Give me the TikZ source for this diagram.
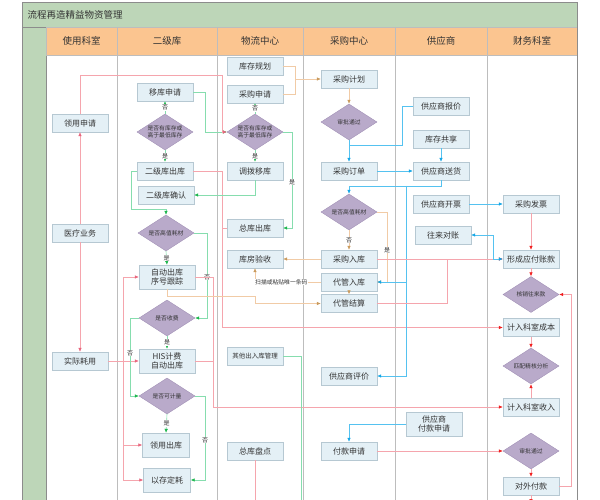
\documentclass[tikz,border=0pt]{standalone}
\usepackage{fontspec}
\setmainfont{Noto Sans CJK SC}
\usetikzlibrary{shapes.geometric,arrows.meta}
\definecolor{frameln}{HTML}{8C8C8C}
\definecolor{laneln}{HTML}{BDBDBD}
\definecolor{ttlgreen}{HTML}{BDD6B8}
\definecolor{hdorange}{HTML}{FBC590}
\definecolor{boxfill}{HTML}{E4F0F6}
\definecolor{boxln}{HTML}{B6C8D2}
\definecolor{diafill}{HTML}{B9AACA}
\definecolor{dialn}{HTML}{A291B6}
\definecolor{txt}{HTML}{333333}
\definecolor{pinkln}{HTML}{F5A5AD}
\definecolor{pinkhd}{HTML}{E8657E}
\definecolor{redhd}{HTML}{F01E1E}
\definecolor{greenln}{HTML}{86DDAE}
\definecolor{greenhd}{HTML}{1BB64C}
\definecolor{blueln}{HTML}{55C2F0}
\definecolor{bluehd}{HTML}{14A6E6}
\definecolor{tanln}{HTML}{F1CBA6}
\definecolor{tanhd}{HTML}{C99A5C}
\begin{document}
\begin{tikzpicture}[x=1pt, y=-1pt,
  box/.style={draw=boxln, fill=boxfill, minimum width=56pt, minimum height=18pt,
    inner sep=1pt, align=center, text=txt, font=\fontsize{8}{9.5}\selectfont},
  dia/.style={diamond, draw=dialn, fill=diafill, minimum width=56pt,
    minimum height=36pt, inner sep=0pt},
  dtxt/.style={align=center, text=txt, inner sep=0pt, font=\fontsize{5.8}{7}\selectfont},
  lbl/.style={fill=white, inner sep=0.6pt, text=txt, font=\fontsize{6}{7}\selectfont},
  hd/.style={text=txt, font=\fontsize{9.5}{11}\selectfont},
  pk/.style={draw=pinkln, line width=0.6pt, -{Latex[length=4pt,width=3.6pt,color=pinkhd]}},
  rd/.style={draw=pinkln, line width=0.6pt, -{Latex[length=4pt,width=3.6pt,color=redhd]}},
  gr/.style={draw=greenln, line width=0.6pt, -{Latex[length=4pt,width=3.6pt,color=greenhd]}},
  bl/.style={draw=blueln, line width=0.6pt, -{Latex[length=4pt,width=3.6pt,color=bluehd]}},
  tn/.style={draw=tanln, line width=0.6pt, -{Latex[length=4pt,width=3.6pt,color=tanhd]}}]
  \useasboundingbox (0,0) rectangle (600,500);
  \clip (0,0) rectangle (600,500);
  % 标题栏与泳道
  \filldraw[fill=ttlgreen, draw=frameln] (22,2) rectangle (577,27);
  \filldraw[fill=ttlgreen, draw=frameln] (22,27) rectangle (46,506);
  \filldraw[fill=hdorange, draw=laneln] (46,27) rectangle (577,55);
  \node[hd, anchor=west] (ttl) at (24,14.5) {流程再造精益物资管理};
  \foreach \x in {117,217,303,395,487}
    \draw[laneln] (\x,27) -- (\x,506);
  \draw[frameln] (22,2) rectangle (577,506);
  \node[hd] (h1) at (81.5,41) {使用科室};
  \node[hd] (h2) at (167,41) {二级库};
  \node[hd] (h3) at (260,41) {物流中心};
  \node[hd] (h4) at (349,41) {采购中心};
  \node[hd] (h5) at (441,41) {供应商};
  \node[hd] (h6) at (532,41) {财务科室};

  % 使用科室
  \node[box] (ly_sq) at (80,123) {领用申请};
  \node[box] (yl_yw) at (80,233) {医疗业务};
  \node[box] (sj_hy) at (80,361) {实际耗用};
  % 二级库
  \node[box] (yk_sq) at (165,92) {移库申请};
  \node[dia, label={[dtxt]center:是否有库存或\\高于最低库存}] (ej_pd) at (165,132) {};
  \node[box] (ej_ck) at (165,171) {二级库出库};
  \node[box] (ej_qr) at (166,195) {二级库确认};
  \node[dia, label={[dtxt]center:是否高值耗材}] (ej_gz) at (166,233) {};
  \node[box, minimum height=24pt] (zd_ck) at (167,277) {自动出库\\序号跟踪};
  \node[dia, label={[dtxt]center:是否收费}] (sf_pd) at (167,318) {};
  \node[box, minimum height=24pt] (his) at (167,361) {HIS计费\\自动出库};
  \node[dia, label={[dtxt]center:是否可计量}] (jl_pd) at (167,396) {};
  \node[box, minimum width=47pt, minimum height=24pt] (ly_ck) at (166,445) {领用出库};
  \node[box, minimum width=47pt, minimum height=24pt] (yc_dh) at (167,480) {以存定耗};
  % 物流中心
  \node[box] (kc_gh) at (255,66) {库存规划};
  \node[box] (cg_sq) at (255,94) {采购申请};
  \node[dia, label={[dtxt]center:是否有库存或\\高于最低库存}] (wl_pd) at (255,132) {};
  \node[box] (db_yk) at (255,171) {调拨移库};
  \node[box] (zk_ck) at (255,228) {总库出库};
  \node[box] (kf_ys) at (255,259) {库房验收};
  \node[box, font=\fontsize{6.5}{8}\selectfont] (qt_gl) at (255,356) {其他出入库管理};
  \node[box] (zk_pd) at (255,451) {总库盘点};
  % 采购中心
  \node[box] (cg_jh) at (349,79) {采购计划};
  \node[dia, label={[dtxt]center:审批通过}] (sp_pd) at (349,122) {};
  \node[box] (cg_dd) at (349,171) {采购订单};
  \node[dia, label={[dtxt]center:是否高值耗材}] (cg_gz) at (349,212) {};
  \node[box] (cg_rk) at (349,259) {采购入库};
  \node[box] (dg_rk) at (349,282) {代管入库};
  \node[box] (dg_js) at (349,303.5) {代管结算};
  \node[box] (gys_pj) at (349,376) {供应商评价};
  \node[box] (fk_sq) at (349,451) {付款申请};
  % 供应商
  \node[box] (gys_bj) at (441,106) {供应商报价};
  \node[box] (kc_gx) at (441,139) {库存共享};
  \node[box] (gys_sh) at (441,171) {供应商送货};
  \node[box] (gys_kp) at (441,204) {供应商开票};
  \node[box] (wl_dz) at (443,235) {往来对账};
  \node[box, minimum height=24pt] (gys_fk) at (434,424) {供应商\\付款申请};
  % 财务科室
  \node[box] (cg_fp) at (531,204) {采购发票};
  \node[box] (yf_zk) at (531,259) {形成应付账款};
  \node[dia, label={[dtxt]center:核销往来款}] (hx_pd) at (531,294.5) {};
  \node[box] (cb) at (531,327.5) {计入科室成本};
  \node[dia, label={[dtxt]center:匹配精核分析}] (pp_pd) at (531,366) {};
  \node[box] (sr) at (531,407) {计入科室收入};
  \node[dia, label={[dtxt]center:审批通过}] (cw_sp) at (531,451) {};
  \node[box] (dw_fk) at (531,486) {对外付款};

  % 使用科室连线
  \draw[pk] (yl_yw.north) -- (ly_sq.south);
  \draw[pk] (yl_yw.south) -- (sj_hy.north);
  \draw[pk] (sj_hy.east) -- (his.west);
  \coordinate (sj_fz) at (123,361);
  \draw[pk] (sj_fz) |- (zd_ck.west);
  \draw[pk] (sj_fz) |- (ly_ck.west);
  \draw[pk] (sj_fz) |- (yc_dh.west);
  % 二级库连线
  \draw[gr] (yk_sq.east) -| (205,132) -- (wl_pd.west);
  \draw[pk] (ly_sq.north) |- (222,75) |- (wl_pd.west);
  \draw[gr] (ej_pd.north) -- (yk_sq.south) node[lbl, midway] {否};
  \draw[gr] (ej_pd.south) -- (ej_ck.north) node[lbl, midway] {是};
  \draw[gr] (ej_ck.west) -| (131,209) -| (ej_gz.north);
  \draw[gr] (ej_gz.south) -- (zd_ck.north) node[lbl, midway] {是};
  \draw[gr] (ej_gz.east) -| (207,318) -- (sf_pd.east);
  \node[lbl] (n1) at (207,277) {否};
  \draw[gr] (sf_pd.south) -- (his.north) node[lbl, midway] {是};
  \draw[gr] (sf_pd.west) -| (130,396) -- (jl_pd.west);
  \node[lbl] (n2) at (130,353) {否};
  \draw[gr] (jl_pd.south) -- (ly_ck.north) node[lbl, midway] {是};
  \draw[gr] (jl_pd.east) -| (205,480) -- (yc_dh.east);
  \node[lbl] (n3) at (205,440) {否};
  \draw[rd] (ej_ck.east) -| (222,327.5) -- (cb.west);
  \draw[pk, -] (zk_ck.west) -- (222,228);
  \draw[rd] (zd_ck.east) -| (213,407) -- (sr.west);
  \draw[pk, -] (his.east) -- (213,361);
  \draw[tn] (zd_ck.south) -- (167,296) -| (255,303.5) -- (dg_js.west);
  % 物流中心连线
  \draw[gr] (wl_pd.north) -- (cg_sq.south) node[lbl, midway] {否};
  \draw[gr] (wl_pd.south) -- (db_yk.north) node[lbl, midway] {是};
  \draw[gr] (wl_pd.east) -- (292,132) |- (zk_ck.east);
  \node[lbl] (n4) at (292,182) {是};
  \draw[gr] (db_yk.south) |- (ej_qr.east);
  \draw[tn] (kc_gh.east) -| (295,79) -- (cg_jh.west);
  \draw[tn, -] (cg_sq.east) -| (295,79);
  \draw[gr, -] (qt_gl.east) -| (301,506);
  \draw[pk, -] (zk_pd.south) -- (255,506);
  % 采购中心连线
  \draw[tn] (cg_jh.south) -- (sp_pd.north);
  \draw[bl] (sp_pd.south) -- (cg_dd.north);
  \draw[bl, -] (gys_bj.west) -| (402,145) -- (349,145);
  \draw[bl] (cg_dd.east) -- (gys_sh.west);
  \draw[bl] (kc_gx.south) -- (gys_sh.north);
  \draw[bl] (gys_sh.south) |- (349,186) -- (cg_gz.north);
  \draw[tn] (cg_gz.south) -- (cg_rk.north) node[lbl, midway] {否};
  \draw[tn] (cg_gz.east) -| (387,282) -- (dg_rk.east);
  \node[lbl] (n5) at (387,250) {是};
  \draw[bl] (406,186) |- (dg_rk.east);
  \draw[bl] (406,186) |- (gys_pj.east);
  \draw[tn] (cg_rk.west) -- (kf_ys.east);
  \draw[tn] (dg_rk.west) -| (kf_ys.south)
    node[lbl, pos=0.3, font=\fontsize{5.8}{7}\selectfont] {扫描或粘贴唯一条码};
  \draw[tn] (dg_rk.south) -- (dg_js.north);
  \draw[rd] (cg_rk.east) -- (yf_zk.west);
  \draw[pk, -] (dg_js.east) -| (447,259);
  \draw[bl] (gys_fk.west) -| (fk_sq.north);
  \draw[rd] (fk_sq.east) -- (cw_sp.west);
  % 供应商与财务连线
  \draw[bl] (gys_kp.east) -- (cg_fp.west);
  \draw[bl, {Latex[length=4pt,width=3.6pt,color=bluehd]}-{Latex[length=4pt,width=3.6pt,color=bluehd]}]
    (wl_dz.east) -| (493,259) -- (yf_zk.west);
  \draw[rd] (cg_fp.south) -- (yf_zk.north);
  \draw[rd] (yf_zk.south) -- (hx_pd.north);
  \draw[rd] (cb.south) -- (pp_pd.north);
  \draw[rd] (sr.north) -- (pp_pd.south);
  \draw[rd] (cw_sp.south) -- (dw_fk.north);
  \draw[rd] (dw_fk.east) -- (571,486) |- (hx_pd.east);
  \coordinate (dw_out) at (531,503);
  \draw[rd] (dw_fk.south) -- (dw_out);
\end{tikzpicture}
\end{document}
